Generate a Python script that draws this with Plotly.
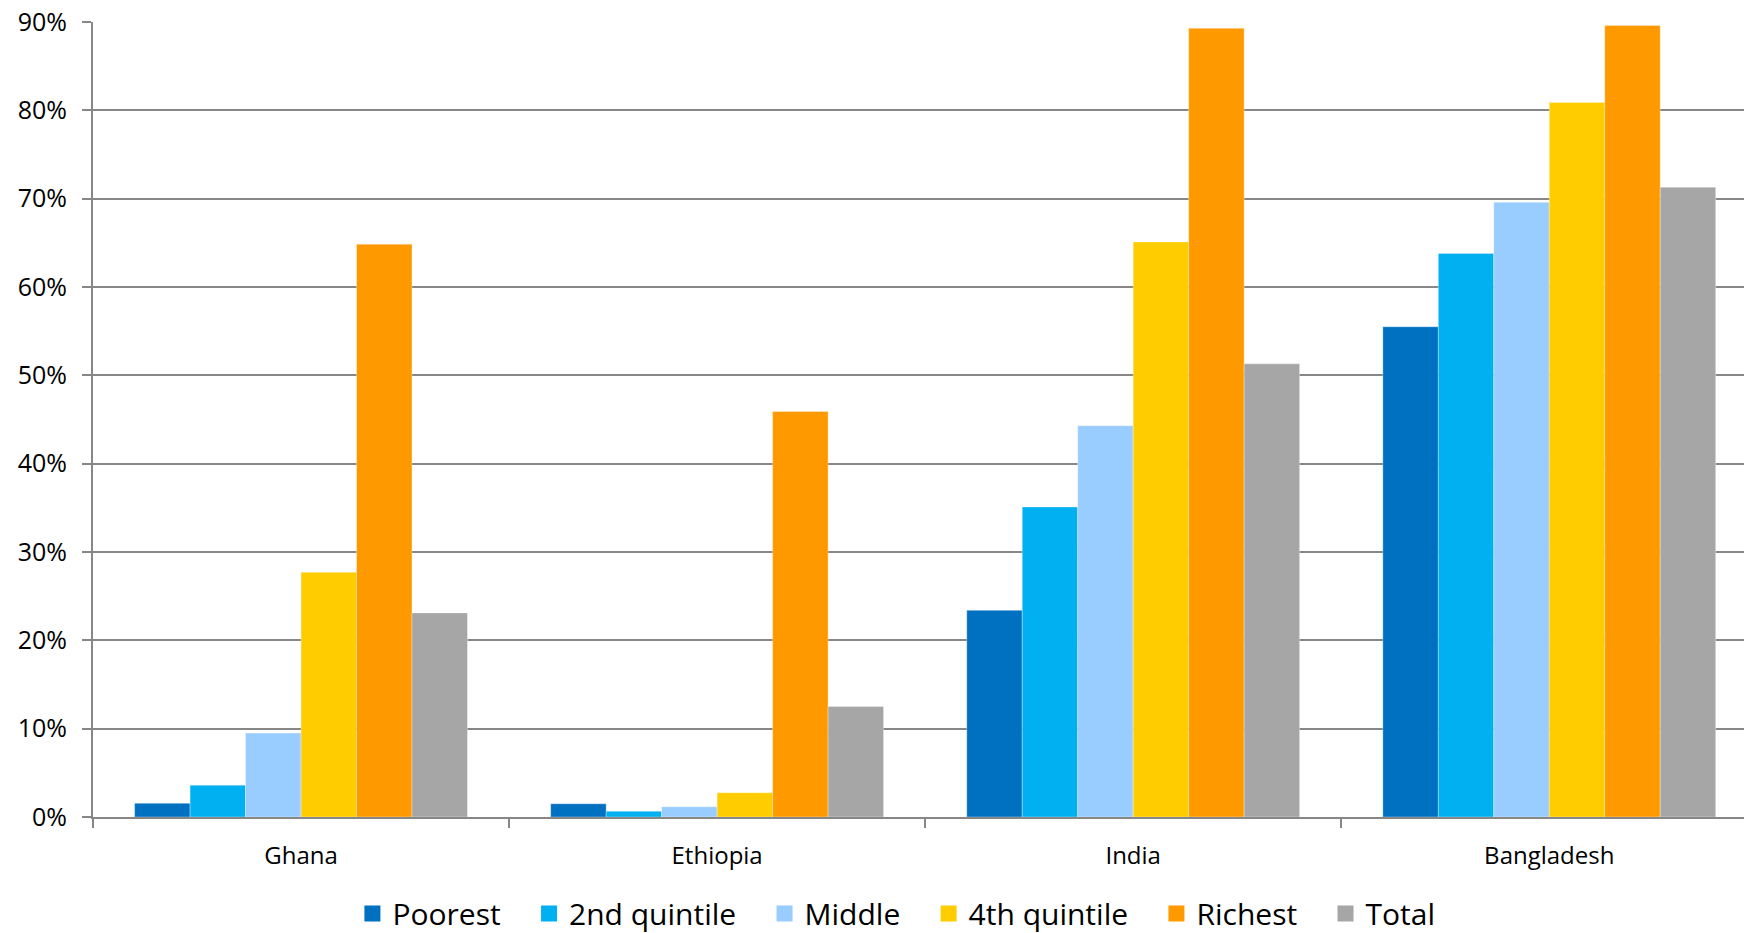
import plotly.graph_objects as go

# Share of households, by wealth quintile and country
countries = ["Ghana", "Ethiopia", "India", "Bangladesh"]
series_names = ["Poorest", "2nd quintile", "Middle", "4th quintile", "Richest", "Total"]
poorest = [0.0155, 0.015, 0.234, 0.555]
second_quintile = [0.036, 0.0065, 0.351, 0.638]
middle = [0.095, 0.0115, 0.443, 0.696]
fourth_quintile = [0.277, 0.0275, 0.651, 0.809]
richest = [0.6485, 0.459, 0.893, 0.896]
total = [0.231, 0.125, 0.513, 0.713]

colors = ["#0070C0", "#00B0F0", "#99CCFF", "#FFCC00", "#FF9900", "#A6A6A6"]
values = [poorest, second_quintile, middle, fourth_quintile, richest, total]

y_ticks = [0, 0.1, 0.2, 0.3, 0.4, 0.5, 0.6, 0.7, 0.8, 0.9]
y_tick_text = ["0%", "10%", "20%", "30%", "40%", "50%", "60%", "70%", "80%", "90%"]

FONT = "Open Sans"
AXIS_GREY = "#878787"
PAD = "\u00a0" * 3  # spacing between legend entries

fig = go.Figure()
for i, (name, vals, col) in enumerate(zip(series_names, values, colors)):
    fig.add_trace(go.Bar(
        x=countries, y=vals, name=name,
        marker=dict(color=col, line=dict(width=0.6, color="rgba(255,255,255,0.55)")),
        showlegend=False, legendgroup=name,
    ))
    # square legend key
    label = name + (PAD if i < len(series_names) - 1 else "")
    fig.add_trace(go.Scatter(
        x=[None], y=[None], mode="markers", name=label, legendgroup=name,
        marker=dict(symbol="square", size=16, color=col),
    ))

fig.update_layout(
    width=1744, height=933,
    margin=dict(l=93, r=0, t=22, b=116, autoexpand=False),
    paper_bgcolor="white", plot_bgcolor="white",
    barmode="group", bargap=0.2, bargroupgap=0,
    font=dict(family=FONT, color="#000000"),
    showlegend=True,
    legend=dict(
        orientation="h", xref="container", yref="container",
        x=0.514, xanchor="center", y=0.021, yanchor="middle",
        font=dict(family=FONT, size=30, color="#000000"),
        itemsizing="trace", tracegroupgap=0, itemwidth=30,
        bgcolor="rgba(0,0,0,0)",
    ),
)

fig.update_xaxes(
    type="category", range=[-0.5, 3.468],
    showline=True, linecolor=AXIS_GREY, linewidth=2,
    ticks="outside", tickson="boundaries", ticklen=9, tickwidth=2, tickcolor=AXIS_GREY,
    ticklabelstandoff=16,
    tickfont=dict(family=FONT, size=24, color="#000000"),
    showgrid=False, zeroline=False,
)
fig.update_yaxes(
    range=[0, 0.9], tickvals=y_ticks, ticktext=y_tick_text,
    showline=True, linecolor=AXIS_GREY, linewidth=2,
    ticks="outside", ticklen=9, tickwidth=2, tickcolor=AXIS_GREY,
    ticklabelstandoff=10,
    tickfont=dict(family=FONT, size=25, color="#000000"),
    showgrid=True, gridcolor=AXIS_GREY, gridwidth=2,
    zeroline=False,
)

fig.write_html("out.html")
